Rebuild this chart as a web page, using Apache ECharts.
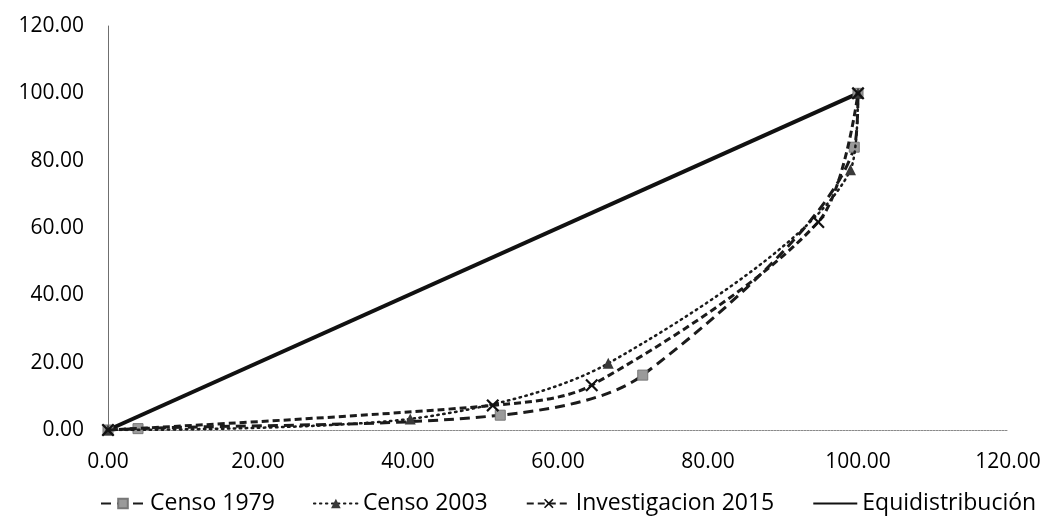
<!DOCTYPE html>
<html>
<head>
<meta charset="utf-8">
<script src="https://cdn.jsdelivr.net/npm/echarts@6/dist/echarts.min.js"></script>
<style>html,body{margin:0;padding:0;background:#fff;}#chart{width:1050px;height:525px;}</style>
</head>
<body>
<div id="chart"></div>
<script>
// Data (Lorenz curves)
const seriesNames = ['Censo 1979', 'Censo 2003', 'Investigacion 2015', 'Equidistribución'];
const censo1979X = [0, 4, 52.3, 71.3, 99.5, 100];
const censo1979Y = [0, 0.4, 4.4, 16.3, 84, 100];
const censo2003X = [0, 40.3, 66.7, 99, 100];
const censo2003Y = [0, 3.3, 19.8, 77.3, 100];
const inv2015X = [0, 51.3, 64.5, 94.7, 100];
const inv2015Y = [0, 7.3, 13.3, 61.8, 100];
const equiX = [0, 100];
const equiY = [0, 100];
const axisTicks = [0, 20, 40, 60, 80, 100, 120];

function pairs(xs, ys) { return xs.map((x, i) => [x, ys[i]]); }

const FONT = 'Open Sans';
const INK = '#1b1b1b';
const xMarker = 'path://M0,1.2 L1.2,0 L5,3.8 L8.8,0 L10,1.2 L6.2,5 L10,8.8 L8.8,10 L5,6.2 L1.2,10 L0,8.8 L3.8,5Z';

const chart = echarts.init(document.getElementById('chart'), null, {renderer: 'canvas'});
chart.setOption({
  animation: false,
  backgroundColor: '#ffffff',
  grid: {left: 108, right: 42, top: 26, bottom: 95, containLabel: false},
  xAxis: {
    type: 'value', min: axisTicks[0], max: axisTicks[axisTicks.length - 1], interval: 20,
    axisLine: {show: true, onZero: true, lineStyle: {color: '#8a8a8a', width: 1, type: [2, 1]}},
    axisTick: {show: false},
    splitLine: {show: false},
    axisLabel: {formatter: v => v.toFixed(2), color: '#000', fontFamily: FONT, fontSize: 21, margin: 22}
  },
  yAxis: {
    type: 'value', min: axisTicks[0], max: axisTicks[axisTicks.length - 1], interval: 20,
    axisLine: {show: true, onZero: true, lineStyle: {color: '#6f6f6f', width: 1}},
    axisTick: {show: false},
    splitLine: {show: false},
    axisLabel: {formatter: v => v.toFixed(2), color: '#000', fontFamily: FONT, fontSize: 21, margin: 24}
  },
  legend: {
    bottom: 5, left: 95, itemWidth: 44, itemHeight: 12, itemGap: 38,
    textStyle: {color: '#000', fontFamily: FONT, fontSize: 23},
    data: [
      seriesNames[0], seriesNames[1], seriesNames[2],
      {name: seriesNames[3], itemStyle: {opacity: 0}}
    ]
  },
  series: [
    {
      name: seriesNames[0], type: 'line', data: pairs(censo1979X, censo1979Y),
      smooth: 0.3,
      symbol: 'rect', symbolSize: 10,
      itemStyle: {color: '#9a9a9a', borderColor: '#777', borderWidth: 1},
      lineStyle: {color: INK, width: 3, type: [10, 6]}, z: 3
    },
    {
      name: seriesNames[1], type: 'line', data: pairs(censo2003X, censo2003Y),
      smooth: 0.3,
      symbol: 'triangle', symbolSize: 11,
      itemStyle: {color: '#3a3a3a'},
      lineStyle: {color: INK, width: 2.5, type: [1.5, 4.5], cap: 'round'}, z: 4
    },
    {
      name: seriesNames[2], type: 'line', data: pairs(inv2015X, inv2015Y),
      smooth: 0.3,
      symbol: xMarker, symbolSize: 13,
      itemStyle: {color: '#111'},
      lineStyle: {color: INK, width: 3, type: [7, 4]}, z: 5
    },
    {
      name: seriesNames[3], type: 'line', data: pairs(equiX, equiY),
      symbol: 'none', showSymbol: false,
      itemStyle: {color: '#111'},
      lineStyle: {color: '#111', width: 4, type: 'solid'}, z: 2
    }
  ]
});
</script>
</body>
</html>
